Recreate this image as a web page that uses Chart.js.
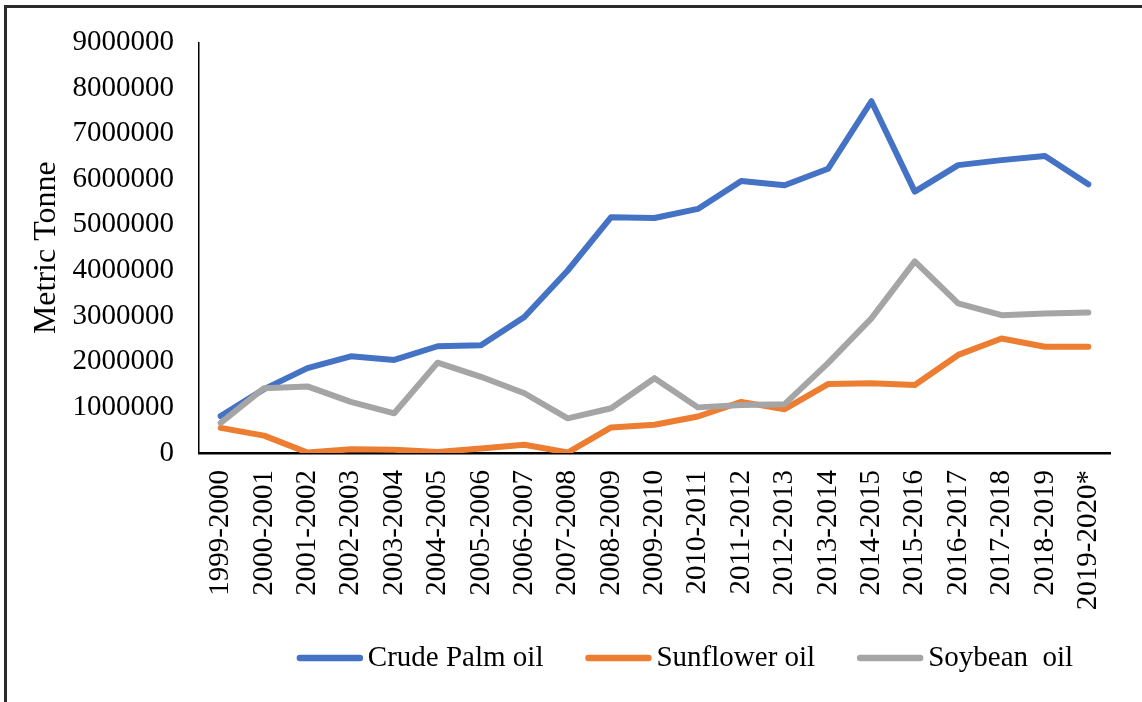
<!DOCTYPE html>
<html>
<head>
<meta charset="utf-8">
<script src="https://cdn.jsdelivr.net/npm/chart.js@4/dist/chart.umd.min.js"></script>
<style>
  html, body { margin: 0; padding: 0; background: #fff; }
  #wrap { width: 1142px; height: 702px; position: relative; }
</style>
</head>
<body>
<div id="wrap"><canvas id="oilChart" width="1142" height="702"></canvas></div>
<script>
// Data
const seasons = ['1999-2000', '2000-2001', '2001-2002', '2002-2003', '2003-2004', '2004-2005',
    '2005-2006', '2006-2007', '2007-2008', '2008-2009', '2009-2010', '2010-2011', '2011-2012',
    '2012-2013', '2013-2014', '2014-2015', '2015-2016', '2016-2017', '2017-2018', '2018-2019',
    '2019-2020*'];
const palmOil = [810000, 1400000, 1860000, 2120000, 2040000, 2340000, 2360000, 2980000, 4000000,
    5170000, 5150000, 5350000, 5960000, 5870000, 6230000, 7710000, 5730000, 6310000, 6420000,
    6510000, 5890000];
const sunflowerOil = [550000, 380000, 10000, 80000, 70000, 20000, 100000, 180000, 10000,
    560000, 620000, 800000, 1120000, 960000, 1510000, 1530000, 1490000, 2150000, 2510000,
    2330000, 2330000];
const soybeanOil = [660000, 1420000, 1460000, 1120000, 870000, 1980000, 1670000, 1310000, 760000,
    980000, 1640000, 1000000, 1050000, 1070000, 1970000, 2950000, 4200000, 3280000, 3020000,
    3060000, 3080000];
const yTicks = [0, 1000000, 2000000, 3000000, 4000000, 5000000, 6000000, 7000000, 8000000, 9000000];

const serif = "'Liberation Serif', 'Times New Roman', serif";

// Frame around the figure
const framePlugin = {
    id: 'frame',
    beforeDraw(chart) {
        const ctx = chart.ctx;
        ctx.save();
        ctx.strokeStyle = '#2b2b2b';
        ctx.lineWidth = 3;
        ctx.beginPath();
        ctx.moveTo(5.5, chart.height);
        ctx.lineTo(5.5, 6.5);
        ctx.lineTo(chart.width, 6.5);
        ctx.stroke();
        ctx.restore();
    }
};

// Legend drawn as line samples + labels, like the office chart
const lineLegend = {
    id: 'lineLegend',
    afterDraw(chart) {
        const ctx = chart.ctx;
        const sample = 66, gap = 5, spacing = 42, y = 658, center = 685;
        ctx.save();
        ctx.font = '29px ' + serif;
        ctx.textBaseline = 'middle';
        const items = chart.data.datasets.map(ds => ({
            label: ds.label, color: ds.borderColor, w: ctx.measureText(ds.label).width
        }));
        const total = items.reduce((s, it) => s + sample + gap + it.w, 0) + spacing * (items.length - 1);
        let x = center - total / 2;
        items.forEach(it => {
            ctx.strokeStyle = it.color;
            ctx.lineWidth = 6.5;
            ctx.lineCap = 'round';
            ctx.beginPath();
            ctx.moveTo(x + 3, y);
            ctx.lineTo(x + sample - 3, y);
            ctx.stroke();
            ctx.fillStyle = '#000';
            ctx.fillText(it.label, x + sample + gap, y);
            x += sample + gap + it.w + spacing;
        });
        ctx.restore();
    }
};

const lineStyle = {
    borderWidth: 6,
    pointRadius: 0,
    pointHoverRadius: 0,
    tension: 0,
    borderJoinStyle: 'round',
    borderCapStyle: 'round',
    fill: false
};

new Chart(document.getElementById('oilChart').getContext('2d'), {
    type: 'line',
    data: {
        labels: seasons,
        datasets: [
            Object.assign({ label: 'Crude Palm oil', data: palmOil, borderColor: '#4472C4', backgroundColor: '#4472C4', order: 2 }, lineStyle),
            Object.assign({ label: 'Sunflower oil', data: sunflowerOil, borderColor: '#ED7D31', backgroundColor: '#ED7D31', order: 1 }, lineStyle),
            Object.assign({ label: 'Soybean  oil', data: soybeanOil, borderColor: '#A5A5A5', backgroundColor: '#A5A5A5', order: 0 }, lineStyle)
        ]
    },
    options: {
        responsive: false,
        animation: false,
        events: [],
        layout: { padding: { left: 0, top: 42, right: 32, bottom: 89 } },
        plugins: {
            legend: { display: false },
            tooltip: { enabled: false }
        },
        scales: {
            x: {
                offset: true,
                grid: { display: false, drawTicks: false },
                border: { display: true, color: '#000', width: 2.5 },
                ticks: {
                    autoSkip: false,
                    minRotation: 90,
                    maxRotation: 90,
                    padding: 17,
                    color: '#000',
                    font: { family: serif, size: 29 }
                },
                afterFit(scale) { scale.height = 160; }
            },
            y: {
                min: 0,
                max: 9000000,
                afterBuildTicks(scale) { scale.ticks = yTicks.map(v => ({ value: v })); },
                grid: { display: false, drawTicks: false },
                border: { display: true, color: '#000', width: 1.5 },
                ticks: {
                    padding: 25,
                    color: '#000',
                    font: { family: serif, size: 29 },
                    callback: v => String(v)
                },
                title: {
                    display: true,
                    text: 'Metric Tonne',
                    color: '#000',
                    font: { family: serif, size: 32 },
                    padding: { top: 27, bottom: 0 }
                },
                afterFit(scale) { scale.width = 199; }
            }
        }
    },
    plugins: [framePlugin, lineLegend]
});
</script>
</body>
</html>
